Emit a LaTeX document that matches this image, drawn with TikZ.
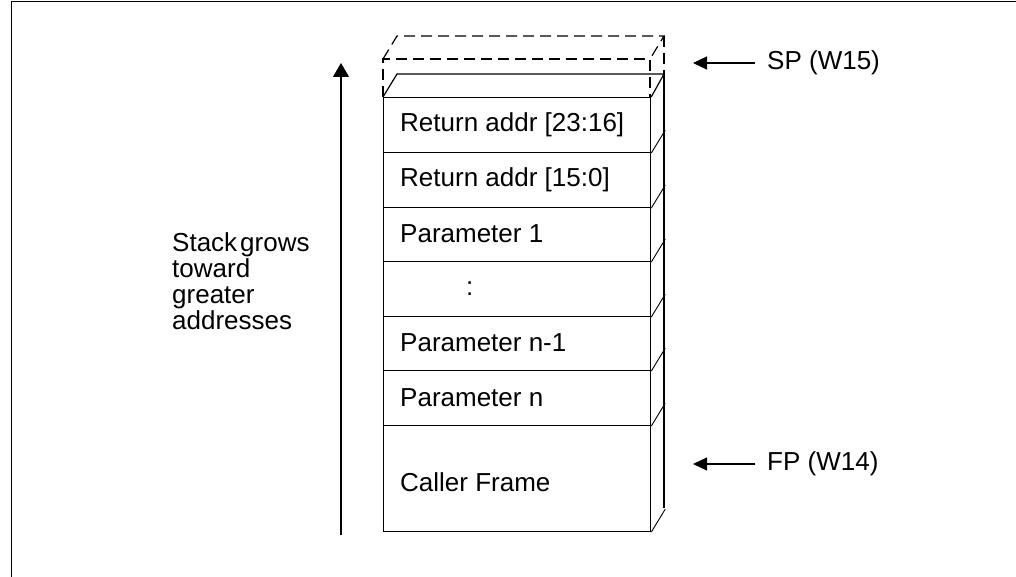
\documentclass[tikz,border=0pt]{standalone}
\usepackage{fontspec}
\setmainfont{Liberation Sans}
\usetikzlibrary{arrows.meta}
\begin{document}
\begin{tikzpicture}[x=1pt,y=-1pt,
  ln/.style={line width=1.2pt},
  dsh/.style={line width=1.2pt, dash pattern=on 11pt off 6pt},
  lbl/.style={font=\fontsize{26}{26}\selectfont, inner sep=0pt, anchor=west},
  cell/.style={draw, line width=1.2pt, minimum width=267pt, anchor=north west, inner sep=0pt},
  tip/.style={-{Triangle[length=14pt,width=13pt]}, line width=1.2pt}]
\useasboundingbox (0,0) rectangle (1016,577);
% frame
\draw[ln] (11.5,577) -- (11.5,1.5) -- (1016,1.5);
% dashed (new) slot
\draw[dsh] (383,97) -- (383,59) -- (650,59) -- (650,97);
\draw[dsh] (383,59) -- (397,36) -- (664,36) -- (650,59);
\draw[dsh] (664,36) -- (664,74);
% stack cells
\node[cell, minimum height=55pt] (r1) at (383,97) {};
\node[cell, minimum height=55pt] (r2) at (383,152) {};
\node[cell, minimum height=54pt] (r3) at (383,207) {};
\node[cell, minimum height=55pt] (r4) at (383,261) {};
\node[cell, minimum height=54pt] (r5) at (383,316) {};
\node[cell, minimum height=55pt] (r6) at (383,370) {};
\node[cell, minimum height=106pt] (r7) at (383,425) {};
% 3D faces
\draw[ln] (r1.north west) -- ++(14,-23) -- (664,74) -- (r1.north east);
\draw[ln] (664,74) -- (664,508);
\foreach \n in {r1,r2,r3,r4,r5,r6,r7}{
  \draw[line width=0.9pt] (\n.south east) -- ++(14,-23);
}
% texts
\node[lbl] (t1) at (400,125) {Return addr [23:16]};
\node[lbl] (t2) at (400,180) {Return addr [15:0]};
\node[lbl] (t3) at (400,234) {Parameter 1};
\node[lbl] (t4) at (466,289) {:};
\node[lbl] (t5) at (400,343) {Parameter n-1};
\node[lbl] (t6) at (400,398) {Parameter n};
\node[lbl] (t7) at (400,482) {Caller Frame};
% growth arrow
\coordinate (gbot) at (341,535);
\coordinate (gtop) at (341,63);
\draw[tip, -{Triangle[length=14pt,width=16pt]}] (gbot) -- (gtop);
\node[lbl, align=left] (grow) at (172,281) {Stack\hspace{3pt}grows\\toward\\greater\\addresses};
% pointers
\node[lbl] (sp) at (767,63) {SP (W15)};
\coordinate (sptip) at (693,63);
\draw[tip, shorten <=12pt] (sp.west) -- (sptip);
\node[lbl] (fp) at (767,464) {FP (W14)};
\coordinate (fptip) at (693,464);
\draw[tip, shorten <=12pt] (fp.west) -- (fptip);
\end{tikzpicture}
\end{document}
